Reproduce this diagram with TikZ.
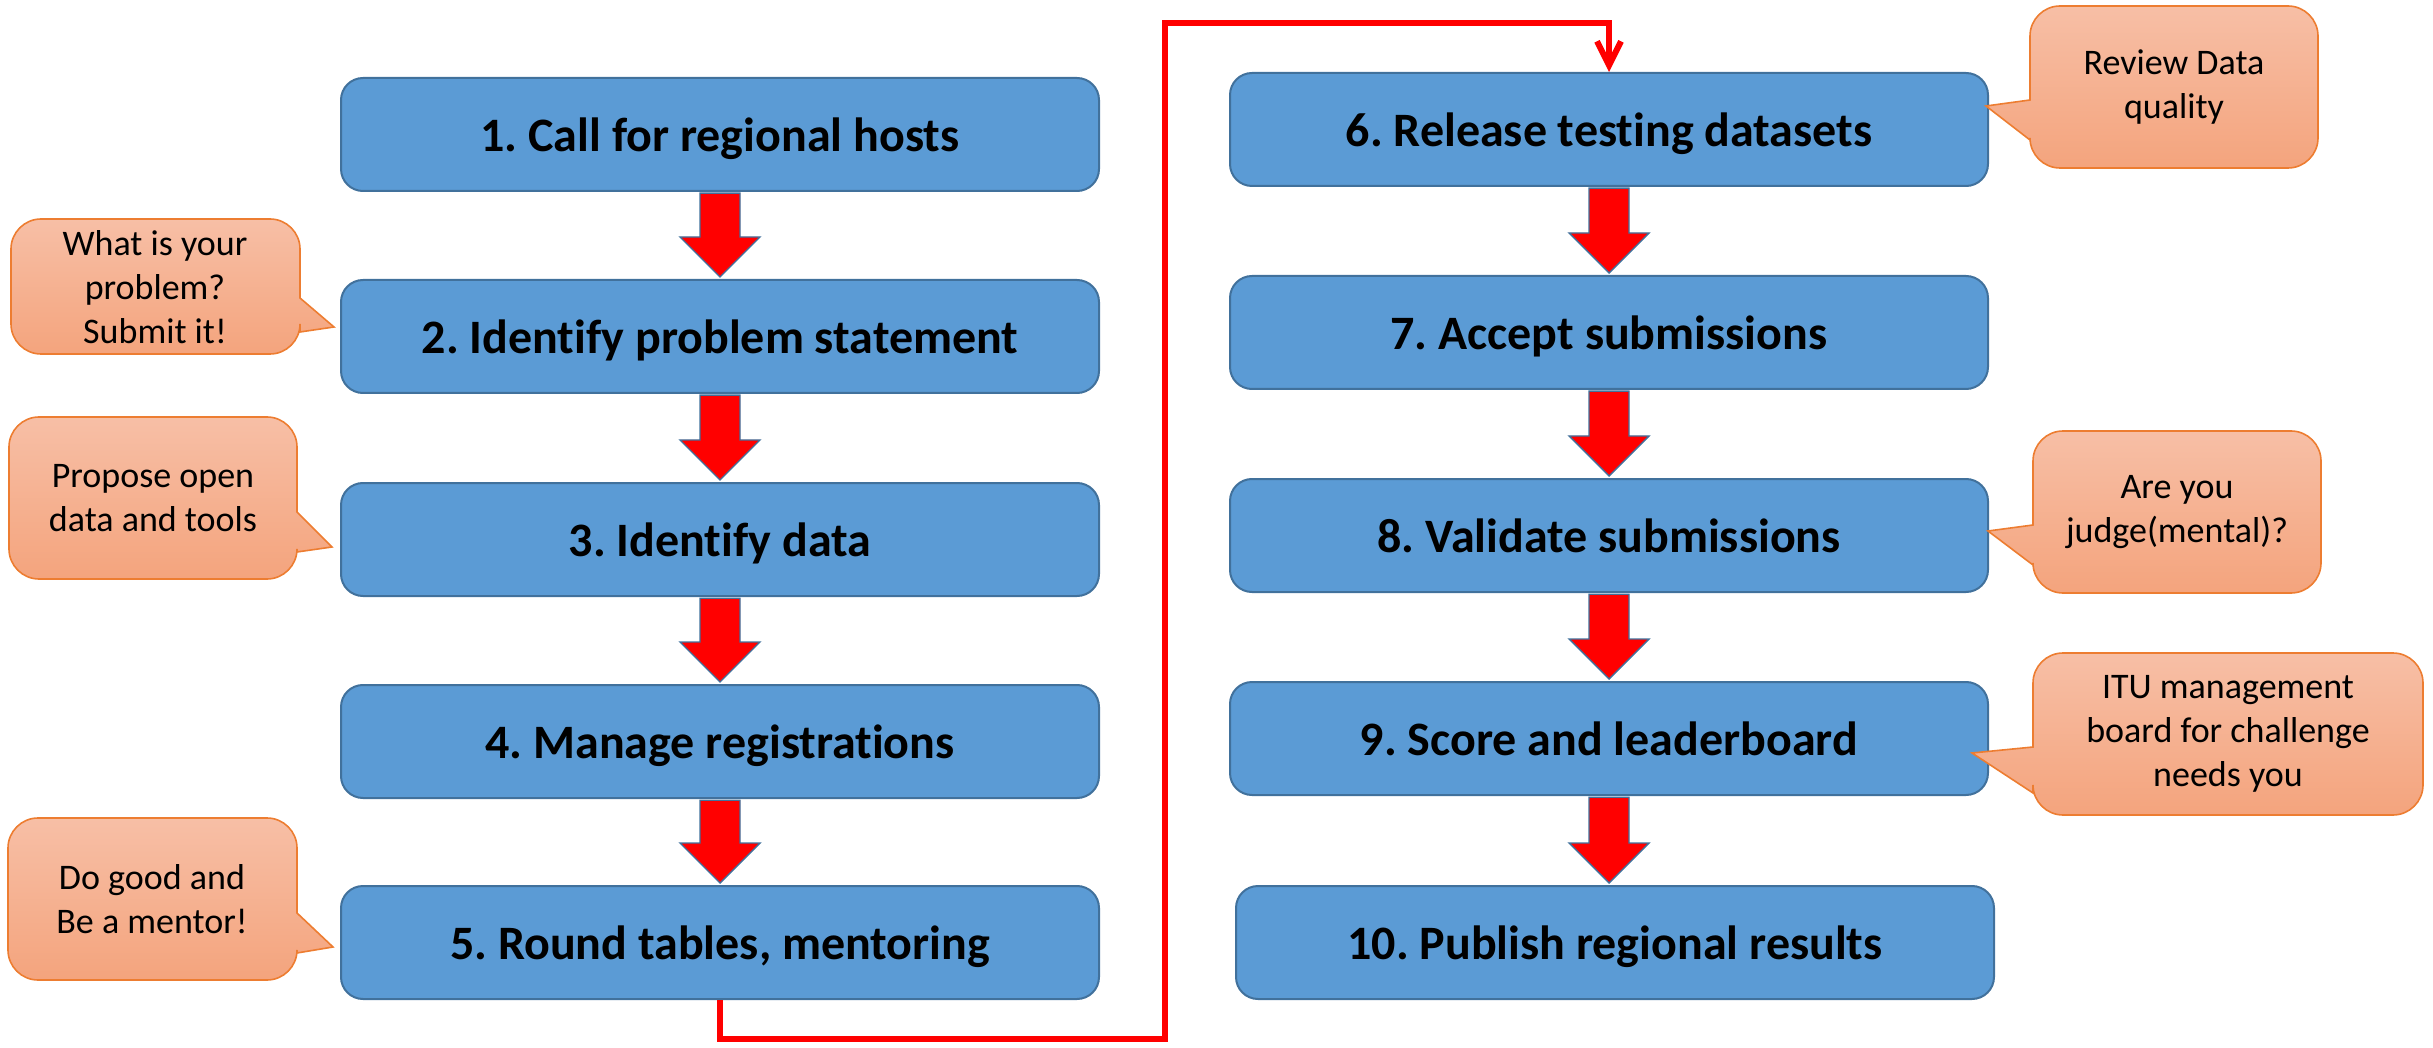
\documentclass[tikz,border=0pt]{standalone}
\usepackage{fontspec}
\setmainfont[Ligatures=NoCommon]{Carlito}
\usetikzlibrary{calc,arrows.meta}
\definecolor{boxfill}{HTML}{5B9BD5}
\definecolor{boxedge}{HTML}{41719C}
\definecolor{cTop}{HTML}{F7BFA6}
\definecolor{cBot}{HTML}{F4A47D}
\definecolor{cEdge}{HTML}{ED7D31}
\newcommand\crad{30}
\newcommand\calloutR[8]{% x1 y1 x2 y2 ya yb tx ty : pointer on right edge
 \path[callout] ({#1+\crad},#2) -- ({#3-\crad},#2)
  .. controls ({#3-0.45*\crad},#2) and (#3,{#2+0.45*\crad}) .. (#3,{#2+\crad})
  -- (#3,#5) -- (#7,#8) -- (#3,#6) -- (#3,{#4-\crad})
  .. controls (#3,{#4-0.45*\crad}) and ({#3-0.45*\crad},#4) .. ({#3-\crad},#4)
  -- ({#1+\crad},#4)
  .. controls ({#1+0.45*\crad},#4) and (#1,{#4-0.45*\crad}) .. (#1,{#4-\crad})
  -- (#1,{#2+\crad})
  .. controls (#1,{#2+0.45*\crad}) and ({#1+0.45*\crad},#2) .. ({#1+\crad},#2) -- cycle;}
\newcommand\calloutL[8]{% x1 y1 x2 y2 ya yb tx ty : pointer on left edge
 \path[callout] ({#1+\crad},#2) -- ({#3-\crad},#2)
  .. controls ({#3-0.45*\crad},#2) and (#3,{#2+0.45*\crad}) .. (#3,{#2+\crad})
  -- (#3,{#4-\crad})
  .. controls (#3,{#4-0.45*\crad}) and ({#3-0.45*\crad},#4) .. ({#3-\crad},#4)
  -- ({#1+\crad},#4)
  .. controls ({#1+0.45*\crad},#4) and (#1,{#4-0.45*\crad}) .. (#1,{#4-\crad})
  -- (#1,#6) -- (#7,#8) -- (#1,#5) -- (#1,{#2+\crad})
  .. controls (#1,{#2+0.45*\crad}) and ({#1+0.45*\crad},#2) .. ({#1+\crad},#2) -- cycle;}
\newcommand\blockarr[2]{%
 \path[blockarrow] let \p1=(#1.south), \p2=(#2.north) in
  (\x1-10pt,\y1-0.6pt) -- (\x1-10pt,\y2+21pt) -- (\x1-20pt,\y2+21pt) -- (\x1,\y2+1pt)
  -- (\x1+20pt,\y2+21pt) -- (\x1+10pt,\y2+21pt) -- (\x1+10pt,\y1-0.6pt) -- cycle;}
\begin{document}
\frenchspacing
\begin{tikzpicture}[x=0.5pt,y=-0.5pt,
  stepbox/.style={draw=boxedge, fill=boxfill, line width=1pt, rounded corners=11pt,
    minimum width=379pt, minimum height=56.5pt, inner sep=0pt, text depth=0pt,
    font=\fontsize{24}{28}\selectfont\bfseries},
  callout/.style={top color=cTop, bottom color=cBot, draw=cEdge, line width=0.8pt},
  callouttext/.style={align=center, inner sep=0pt, font=\fontsize{18}{22}\selectfont},
  blockarrow/.style={fill=red, draw=boxedge, line width=0.7pt},
  redline/.style={draw=red, line width=3pt, -{Straight Barb[length=12pt,width=12pt]}}]
\useasboundingbox (0,0) rectangle (2433,1048);
% coordinates of the long connector
\coordinate (lb) at (1165,1039);
\coordinate (lt) at (1165,23);
% boxes
\node[stepbox] (b1) at (720,134.5) {1. Call for regional hosts};
\node[stepbox] (b2) at (720,336.5) {2. Identify problem statement};
\node[stepbox] (b3) at (720,539.5) {3. Identify data};
\node[stepbox] (b4) at (720,741.5) {4. Manage registrations};
\node[stepbox] (b5) at (720,942.5) {5. Round tables, mentoring};
\node[stepbox] (b6) at (1609,129.5) {6. Release testing datasets};
\node[stepbox] (b7) at (1609,332.5) {7. Accept submissions};
\node[stepbox] (b8) at (1609,535.5) {8. Validate submissions};
\node[stepbox] (b9) at (1609,738.5) {9. Score and leaderboard};
\node[stepbox] (b10) at (1615,942.5) {10. Publish regional results};
% block arrows
\blockarr{b1}{b2}
\blockarr{b2}{b3}
\blockarr{b3}{b4}
\blockarr{b4}{b5}
\blockarr{b6}{b7}
\blockarr{b7}{b8}
\blockarr{b8}{b9}
\blockarr{b9}{b10}
% connector 5 -> 6
\draw[redline] (b5.south) |- (lb) -- (lt) -| (b6.north);
% callouts
\calloutR{11}{219}{300}{354}{298}{332}{334}{327}
\node[callouttext] (c1) at (155,287) {What is your\\problem?\\Submit it!};
\calloutR{9}{417}{297}{579}{512}{552}{332}{547}
\node[callouttext] (c2) at (153,498) {Propose open\\data and tools};
\calloutR{8}{818}{297}{980}{913}{953}{333}{947}
\node[callouttext] (c3) at (152,899) {Do good and\\Be a mentor!};
\calloutL{2030}{6}{2318}{168}{100}{140}{1986}{106}
\node[callouttext] (c4) at (2174,87) {Review Data\\quality};
\calloutL{2033}{431}{2321}{593}{525}{565}{1988}{531}
\node[callouttext] (c5) at (2177,512) {Are you\\judge(mental)?};
\calloutL{2033}{653}{2423}{815}{747}{793}{1972}{753}
\node[callouttext] (c6) at (2228,734) {ITU management\\board for challenge\\needs you};
\end{tikzpicture}
\end{document}
